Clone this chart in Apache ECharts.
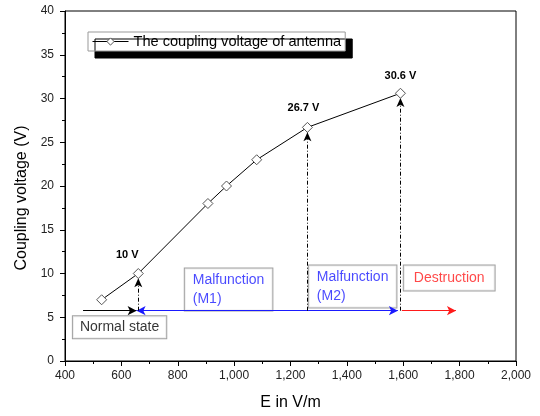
<!DOCTYPE html>
<html>
<head>
<meta charset="utf-8">
<script src="https://cdn.jsdelivr.net/npm/echarts@6/dist/echarts.min.js"></script>
<style>
  html, body { margin: 0; padding: 0; background: #fff; }
  #chart { width: 540px; height: 416px; }
</style>
</head>
<body>
<div id="chart"></div>
<script>
// Coupling voltage of the antenna vs field strength
const fieldE = [530, 660, 907, 973, 1080, 1260, 1590];
const couplingV = [7, 10, 18, 20, 23, 26.7, 30.6];
const pointLabels = ['', '10 V', '', '', '', '26.7 V', '30.6 V'];

// thresholds (vertical arrows) and state ranges (horizontal arrows)
const thresholdE = [660, 1260, 1590];
const thresholdV = [10, 26.7, 30.6];
const stateLevel = 5.75;
const normalRange = [464, 654];
const malfunctionRange = [654, 1581];
const destructionRange = [1595, 1787];

// state boxes: text, anchor (left edge, middle) in data units
const boxTexts = ['Normal state', 'Malfunction\n(M1)', 'Malfunction\n(M2)', 'Destruction'];
const boxE = [428, 825, 1265, 1602];
const boxV = [3.86, 8.18, 8.52, 9.49];
const boxColors = ['#000', '#1a1aff', '#1a1aff', '#ff1a1a'];

const xTicks = { min: 400, max: 2000, step: 200 };
const yTicks = { min: 0, max: 40, step: 5 };

const FONT = '"Liberation Sans", Arial, sans-serif';

const chart = echarts.init(document.getElementById('chart'), null, { renderer: 'canvas' });

const lineData = fieldE.map((e, i) => {
  const item = { value: [e, couplingV[i]] };
  if (pointLabels[i]) {
    const off = i === 1 ? [-11, -2] : (i === 5 ? [-4, -2] : [0, 0]);
    item.label = {
      show: true,
      formatter: pointLabels[i],
      position: 'top',
      distance: 6,
      offset: off,
      fontFamily: FONT,
      fontSize: 11,
      fontWeight: 'bold',
      color: '#000'
    };
  }
  return item;
});

const hArrow = (range, color, both) => [
  { coord: [range[0], stateLevel], symbol: both ? 'arrow' : 'none', symbolSize: [7, 9],
    lineStyle: { color: color, width: 1, type: 'solid' } },
  { coord: [range[1], stateLevel], symbol: 'arrow', symbolSize: [7, 9] }
];

const arrowLines = [
  hArrow(normalRange, '#000', false),
  hArrow(malfunctionRange, '#1a1aff', true),
  hArrow(destructionRange, '#ff1a1a', false)
];
thresholdE.forEach((e, i) => {
  arrowLines.push([
    { coord: [e, stateLevel], symbol: 'none',
      lineStyle: { color: '#000', width: 1, type: [4, 2, 1, 2] } },
    { coord: [e, thresholdV[i] - 0.55], symbol: 'arrow', symbolSize: [6, 9] }
  ]);
});

const boxData = boxTexts.map((t, i) => ({
  value: [boxE[i], boxV[i]],
  label: {
    show: true,
    formatter: t,
    position: 'inside',
    align: 'left',
    verticalAlign: 'middle',
    color: boxColors[i],
    fontFamily: FONT,
    fontSize: 14,
    lineHeight: t.indexOf('\n') >= 0 ? 19 : (i === 0 ? 16 : 19),
    backgroundColor: '#fff',
    borderColor: '#888',
    borderWidth: 1,
    padding: t.indexOf('\n') >= 0 ? [2, 8, 2, 8] : (i === 0 ? [3, 7, 3, 7] : [3, 10, 3, 10])
  }
}));

const option = {
  backgroundColor: '#fff',
  animation: false,
  textStyle: { fontFamily: FONT },
  grid: {
    left: 65, right: 24, top: 11, bottom: 53,
    show: true, borderColor: '#000', borderWidth: 1, backgroundColor: 'transparent'
  },
  legend: {
    data: ['The coupling voltage of antenna'],
    left: 88, top: 32,
    padding: [2, 4, 2, 4],
    itemWidth: 36, itemHeight: 9, itemGap: 5,
    backgroundColor: '#fff',
    borderColor: '#999',
    borderWidth: 1,
    shadowColor: '#000',
    shadowBlur: 0,
    shadowOffsetX: 7,
    shadowOffsetY: 7,
    lineStyle: { color: '#000', width: 1 },
    itemStyle: { color: '#fff', borderColor: '#555', borderWidth: 1 },
    textStyle: { fontFamily: FONT, fontSize: 14.6, color: '#000', padding: [1, 0, 0, 0] }
  },
  xAxis: {
    type: 'value',
    min: xTicks.min, max: xTicks.max, interval: xTicks.step,
    name: 'E in V/m',
    nameLocation: 'middle',
    nameGap: 34,
    nameTextStyle: { fontFamily: FONT, fontSize: 16, color: '#000' },
    axisLine: { lineStyle: { color: '#000', width: 1 } },
    axisTick: { show: true, inside: false, length: 5, lineStyle: { color: '#000' } },
    minorTick: { show: true, splitNumber: 2, length: 3, lineStyle: { color: '#000' } },
    splitLine: { show: false },
    axisLabel: {
      margin: 9,
      fontFamily: FONT, fontSize: 12, color: '#222',
      formatter: v => v.toLocaleString('en-US')
    }
  },
  yAxis: {
    type: 'value',
    min: yTicks.min, max: yTicks.max, interval: yTicks.step,
    name: 'Coupling voltage (V)',
    nameLocation: 'middle',
    nameGap: 28,
    nameTextStyle: { fontFamily: FONT, fontSize: 16, color: '#000', padding: [0, 24, 0, 0] },
    axisLine: { lineStyle: { color: '#000', width: 1 } },
    axisTick: { show: true, inside: false, length: 5, lineStyle: { color: '#000' } },
    minorTick: { show: true, splitNumber: 2, length: 3, lineStyle: { color: '#000' } },
    splitLine: { show: false },
    axisLabel: { margin: 11, fontFamily: FONT, fontSize: 12, color: '#222' }
  },
  series: [
    {
      name: 'arrows',
      type: 'line',
      data: [],
      silent: true,
      z: 1,
      markLine: {
        silent: true,
        animation: false,
        label: { show: false },
        lineStyle: { color: '#000', width: 1 },
        data: arrowLines
      }
    },
    {
      name: 'The coupling voltage of antenna',
      type: 'line',
      data: lineData,
      z: 3,
      symbol: 'diamond',
      symbolSize: 10,
      showAllSymbol: true,
      lineStyle: { color: '#000', width: 1 },
      itemStyle: { color: '#fff', borderColor: '#555', borderWidth: 1 }
    },
    {
      name: 'boxes',
      type: 'scatter',
      data: boxData,
      symbolSize: 1,
      z: 4,
      itemStyle: { color: 'rgba(0,0,0,0)' }
    }
  ]
};

chart.setOption(option);
window.addEventListener('resize', () => chart.resize());
</script>
</body>
</html>
